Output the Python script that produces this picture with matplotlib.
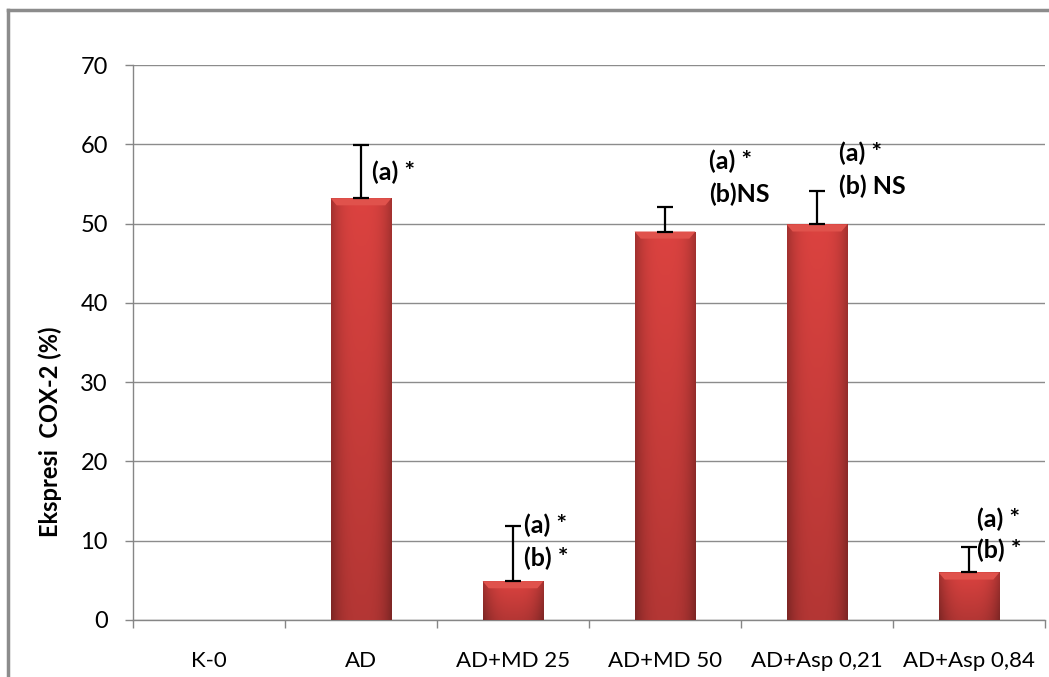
import matplotlib
matplotlib.use('Agg')
import matplotlib.pyplot as plt
from matplotlib.lines import Line2D
import numpy as np

# data
kelompok = ['K-0', 'AD', 'AD+MD 25', 'AD+MD 50', 'AD+Asp 0,21', 'AD+Asp 0,84']
ekspresi = [0, 53.2, 4.9, 49.0, 49.9, 6.0]
sd = [0, 6.7, 7.0, 3.1, 4.2, 3.2]

# notasi signifikansi: (indeks kelompok, teks, y)
notasi = [
    (1, '(a) *', 56.5),
    (2, '(a) *', 12.0),
    (2, '(b) *', 7.8),
    (3, '(a) *', 57.8),
    (3, '(b)NS', 53.7),
    (4, '(a) *', 58.9),
    (4, '(b) NS', 54.7),
    (5, '(a) *', 12.7),
    (5, '(b) *', 8.8),
]
geser = {1: 0.07, 2: 0.07, 3: 0.29, 4: 0.145, 5: 0.05}

plt.rcParams['font.family'] = ['Lato', 'DejaVu Sans']

fig = plt.figure(figsize=(10.49, 6.77), dpi=100)
fig.patch.set_facecolor('white')
ax = fig.add_axes([133 / 1049, 57 / 677, 912 / 1049, 555 / 677])

x = np.arange(len(kelompok))
bars = ax.bar(x, ekspresi, width=0.40, color='#C83A3A', zorder=3)

# gradien sederhana untuk efek 3D pada batang
h_grad = np.abs(np.linspace(-1, 1, 60))
for b in bars:
    if b.get_height() <= 0:
        continue
    v = np.linspace(0, 1, 80)[:, None]
    shade = 1 - 0.25 * h_grad[None, :] ** 3 - 0.18 * v
    base = np.array([0.86, 0.26, 0.25])
    img = base[None, None, :] * shade[:, :, None]
    img = np.clip(img, 0, 1)
    x0, y0 = b.get_x(), b.get_y()
    w, h = b.get_width(), b.get_height()
    im = ax.imshow(img, extent=[x0, x0 + w, y0, y0 + h], aspect='auto',
                   origin='upper', zorder=3.5, interpolation='bilinear')
    im.set_clip_path(b)
    # tepi atas yang lebih terang
    top = min(h, 0.9)
    ax.fill([x0, x0 + w, x0 + w - 0.04, x0 + 0.04],
            [y0 + h, y0 + h, y0 + h - top, y0 + h - top],
            color='#E0524C', zorder=3.6, lw=0)

ada = [i for i in range(len(sd)) if sd[i] > 0]
ax.errorbar(x[ada], [ekspresi[i] for i in ada],
            yerr=[np.zeros(len(ada)), [sd[i] for i in ada]], fmt='none',
            ecolor='black', elinewidth=1.6, capsize=6, capthick=1.6, zorder=4)

for i, teks, yy in notasi:
    ax.text(i + geser[i], yy, teks, fontsize=18, fontweight='bold',
            va='center', ha='left', zorder=5)

ax.set_xlim(-0.5, len(kelompok) - 0.5)
ax.set_ylim(0, 70)
ax.set_yticks(np.arange(0, 71, 10))
ax.set_xticks(x)
ax.set_xticklabels(kelompok, fontsize=16)
ax.set_xticks(np.arange(-0.5, len(kelompok), 1), minor=True)
ax.tick_params(axis='x', which='major', length=0, pad=22)
ax.tick_params(axis='x', which='minor', length=6, color='#868686', width=1)
ax.tick_params(axis='y', labelsize=17, length=6, color='#868686', width=1, pad=12)
ax.yaxis.grid(True, color='#8C8C8C', lw=1)
ax.set_axisbelow(True)
for s in ['top', 'right']:
    ax.spines[s].set_visible(False)
for s in ['left', 'bottom']:
    ax.spines[s].set_color('#868686')
    ax.spines[s].set_linewidth(1)

ax.set_ylabel('Ekspresi  COX-2 (%)', fontsize=17, fontweight='bold')
ax.yaxis.set_label_coords(-0.078, 0.34)

# bingkai grafik (terpotong di kanan dan bawah)
fig.add_artist(Line2D([8 / 1049, 8 / 1049], [0, 1 - 10 / 677], color='#8C8C8C', lw=2.5))
fig.add_artist(Line2D([8 / 1049, 1], [1 - 10 / 677, 1 - 10 / 677], color='#8C8C8C', lw=2.5))

fig.savefig('out.png', dpi=100, facecolor='white')
